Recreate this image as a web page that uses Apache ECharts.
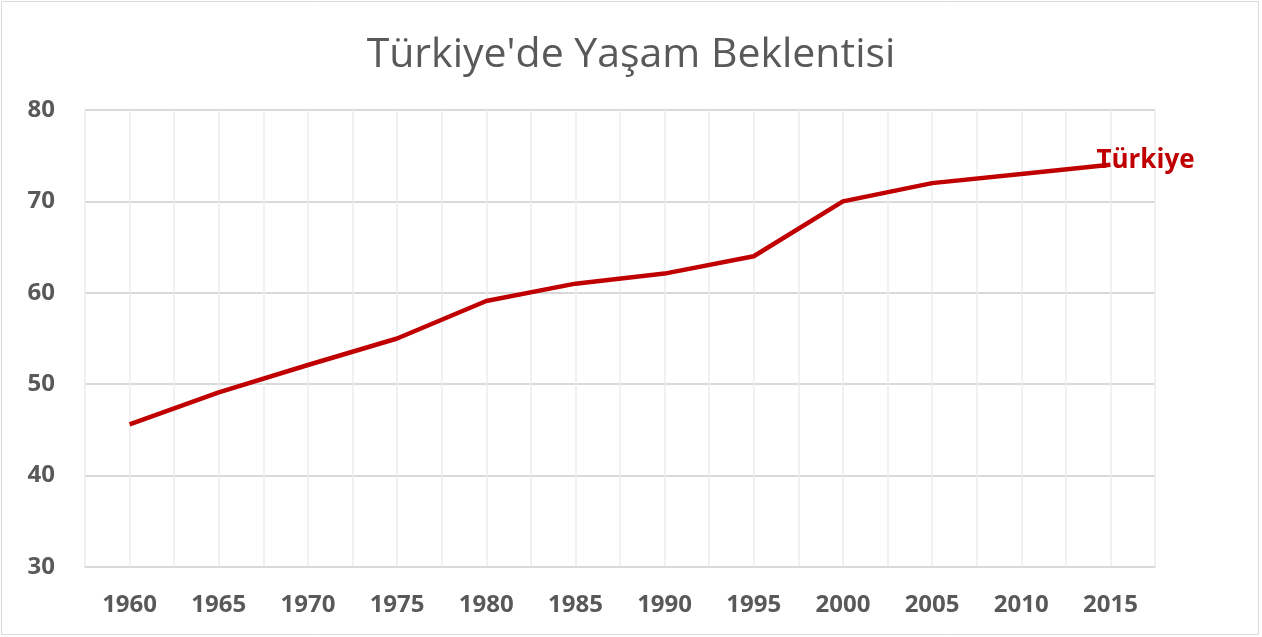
<!DOCTYPE html>
<html>
<head>
<meta charset="utf-8">
<script src="https://cdn.jsdelivr.net/npm/echarts@6/dist/echarts.min.js"></script>
<style>
  html, body { margin: 0; padding: 0; background: #fff; }
  #chart { width: 1262px; height: 637px; }
</style>
</head>
<body>
<div id="chart"></div>
<script>
// data
var years = [1960, 1965, 1970, 1975, 1980, 1985, 1990, 1995, 2000, 2005, 2010, 2015];
var lifeExp = [45.6, 49.1, 52.1, 55, 59.1, 61, 62.1, 64, 70, 72, 73, 74];
var seriesName = 'Türkiye';
var titleText = "Türkiye'de Yaşam Beklentisi";

var chart = echarts.init(document.getElementById('chart'));

var points = [];
for (var i = 0; i < years.length; i++) {
    points.push([years[i], lifeExp[i]]);
}

var textColor = '#595959';
var font = '"Open Sans", sans-serif';

var option = {
    backgroundColor: '#fff',
    animation: false,
    title: {
        text: titleText,
        left: 'center',
        top: 30,
        textStyle: {
            fontFamily: font,
            fontSize: 41,
            fontWeight: 'normal',
            color: textColor
        }
    },
    graphic: [{
        type: 'rect',
        shape: { x: 1.5, y: 1.5, width: 1257, height: 633 },
        style: { fill: 'none', stroke: '#d9d9d9', lineWidth: 1 }
    }],
    grid: {
        left: 85,
        right: 107,
        top: 110,
        bottom: 70
    },
    xAxis: {
        type: 'value',
        min: 1957.5,
        max: 2017.5,
        interval: 2.5,
        axisLine: { show: true, lineStyle: { color: '#d9d9d9', width: 1.5 } },
        axisTick: { show: false },
        axisLabel: {
            margin: 26,
            fontFamily: font,
            fontSize: 24,
            fontWeight: 'bold',
            color: textColor,
            formatter: function (v) {
                return (v % 5 === 0) ? String(v) : '';
            }
        },
        splitLine: { show: true, lineStyle: { color: '#ededed', width: 1.5 } }
    },
    yAxis: {
        type: 'value',
        min: 30,
        max: 80,
        interval: 10,
        axisLine: { show: false },
        axisTick: { show: false },
        axisLabel: {
            margin: 30,
            fontFamily: font,
            fontSize: 24,
            fontWeight: 'bold',
            color: textColor
        },
        splitLine: { show: true, lineStyle: { color: '#d9d9d9', width: 2 } }
    },
    series: [{
        name: seriesName,
        type: 'line',
        data: points,
        symbol: 'none',
        lineStyle: { color: '#c00000', width: 4.5 },
        itemStyle: { color: '#c00000' },
        endLabel: {
            show: true,
            formatter: seriesName,
            distance: 0,
            offset: [-14, -4],
            fontFamily: font,
            fontSize: 26,
            fontWeight: 'bold',
            color: '#c00000'
        }
    }]
};

chart.setOption(option);
</script>
</body>
</html>
